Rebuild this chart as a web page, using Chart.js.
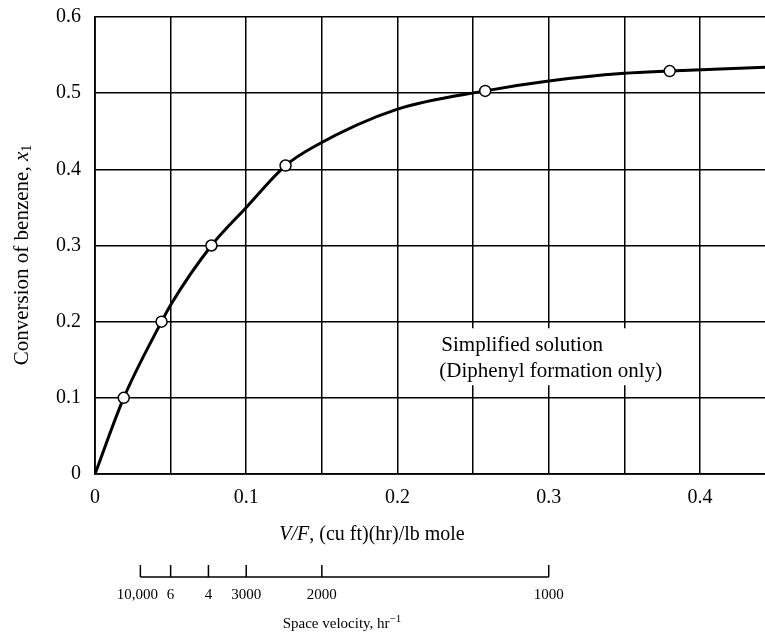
<!DOCTYPE html>
<html>
<head>
<meta charset="utf-8">
<script src="https://cdn.jsdelivr.net/npm/chart.js@4/dist/chart.umd.min.js"></script>
<style>
  html, body { margin: 0; padding: 0; background: #ffffff; overflow: hidden; }
  #wrap { width: 765px; height: 639px; position: relative; }
</style>
</head>
<body>
<div id="wrap"><canvas id="c"></canvas></div>
<script>
// ---- data ----
const xTicks = [0, 0.05, 0.1, 0.15, 0.2, 0.25, 0.3, 0.35, 0.4];
const xTickLabels = ['0', '', '0.1', '', '0.2', '', '0.3', '', '0.4'];
const yTicks = [0, 0.1, 0.2, 0.3, 0.4, 0.5, 0.6];
const yTickLabels = ['0', '0.1', '0.2', '0.3', '0.4', '0.5', '0.6'];

// smooth curve (V/F, conversion)
const curveX = [0, 0.019, 0.044, 0.05, 0.077, 0.1, 0.126, 0.145, 0.2, 0.258, 0.3, 0.35, 0.38, 0.443];
const curveY = [0, 0.1, 0.2, 0.222, 0.3, 0.35, 0.405, 0.43, 0.479, 0.503, 0.516, 0.526, 0.529, 0.534];

// open circles on the curve
const pointX = [0.019, 0.044, 0.077, 0.126, 0.258, 0.38];
const pointY = [0.1, 0.2, 0.3, 0.405, 0.503, 0.529];

// secondary scale: space velocity (hr^-1); V/F = svConstant / SV
const svValues = [10000, 6000, 4000, 3000, 2000, 1000];
const svLabels = ['10,000', '6', '4', '3000', '2000', '1000'];
const svConstant = 300;

const xMin = 0, xMax = 0.443, yMin = 0, yMax = 0.6;

const FONT = "'Liberation Serif', 'DejaVu Serif', serif";

function drawRuns(ctx, runs, cx, cy) {
  let total = 0;
  runs.forEach(r => { ctx.font = r.font; r.w = ctx.measureText(r.t).width; total += r.w; });
  let x = cx - total / 2;
  ctx.textBaseline = 'middle';
  ctx.textAlign = 'left';
  runs.forEach(r => {
    ctx.font = r.font;
    ctx.fillText(r.t, x, cy + (r.dy || 0));
    x += r.w;
  });
}

const extras = {
  id: 'extras',
  afterDatasetsDraw(chart) {
    const ctx = chart.ctx;
    const xs = chart.scales.x, ys = chart.scales.y;
    ctx.save();
    const l1 = 'Simplified solution';
    const l2 = '(Diphenyl formation only)';
    ctx.font = '21px ' + FONT;
    const tx = xs.getPixelForValue(0.229);
    const y1 = ys.getPixelForValue(0.169);
    const y2 = ys.getPixelForValue(0.135);
    const w = Math.max(ctx.measureText(l1).width, ctx.measureText(l2).width);
    ctx.fillStyle = '#ffffff';
    ctx.fillRect(tx - 6, y1 - 17, w + 14, (y2 - y1) + 31);
    ctx.fillStyle = '#000000';
    ctx.textBaseline = 'middle';
    ctx.textAlign = 'left';
    ctx.fillText(l1, tx, y1);
    ctx.fillText(l2, tx - 2, y2);
    ctx.restore();
  },
  afterDraw(chart) {
    const ctx = chart.ctx;
    const xs = chart.scales.x;
    ctx.save();
    ctx.fillStyle = '#000000';
    ctx.strokeStyle = '#000000';

    // y-axis title (rotated)
    ctx.save();
    ctx.translate(22, 255);
    ctx.rotate(-Math.PI / 2);
    drawRuns(ctx, [
      { t: 'Conversion of benzene, ', font: '21px ' + FONT },
      { t: 'x', font: 'italic 21px ' + FONT },
      { t: '1', font: '14px ' + FONT, dy: 5 }
    ], 0, 0);
    ctx.restore();

    // x-axis title
    drawRuns(ctx, [
      { t: 'V/F', font: 'italic 20px ' + FONT },
      { t: ', (cu ft)(hr)/lb mole', font: '20px ' + FONT }
    ], 372, 535);

    // space velocity scale
    const lineY = 577;
    const pxs = svValues.map(v => xs.getPixelForValue(svConstant / v));
    ctx.lineWidth = 1.5;
    ctx.beginPath();
    ctx.moveTo(Math.min(...pxs), lineY);
    ctx.lineTo(Math.max(...pxs), lineY);
    pxs.forEach(p => { ctx.moveTo(p, lineY); ctx.lineTo(p, lineY - 12); });
    ctx.stroke();
    ctx.font = '15px ' + FONT;
    ctx.textAlign = 'center';
    ctx.textBaseline = 'middle';
    svLabels.forEach((lab, i) => {
      let p = pxs[i];
      if (i === 0) p -= 3;
      ctx.fillText(lab, p, lineY + 18);
    });
    drawRuns(ctx, [
      { t: 'Space velocity, hr', font: '15px ' + FONT },
      { t: '\u2212', font: '11px ' + FONT, dy: -5 },
      { t: '1', font: '11px ' + FONT, dy: -5 }
    ], 342, 624);
    ctx.restore();
  }
};

new Chart(document.getElementById('c'), {
  type: 'scatter',
  data: {
    datasets: [
      {
        type: 'line',
        data: curveX.map((x, i) => ({ x: x, y: curveY[i] })),
        borderColor: '#000000',
        borderWidth: 3,
        pointRadius: 0,
        cubicInterpolationMode: 'monotone',
        fill: false,
        order: 2
      },
      {
        type: 'scatter',
        data: pointX.map((x, i) => ({ x: x, y: pointY[i] })),
        backgroundColor: '#ffffff',
        borderColor: '#000000',
        borderWidth: 1.5,
        pointRadius: 5.5,
        order: 1
      }
    ]
  },
  options: {
    responsive: true,
    maintainAspectRatio: false,
    animation: false,
    events: [],
    layout: { autoPadding: false, padding: { top: 17, right: 0, left: 0, bottom: 0 } },
    plugins: { legend: { display: false }, tooltip: { enabled: false } },
    scales: {
      x: {
        type: 'linear',
        min: xMin, max: xMax,
        afterBuildTicks: s => { s.ticks = xTicks.map(v => ({ value: v })); },
        afterFit: s => { s.height = 165; s.paddingLeft = 0; s.paddingRight = 0; },
        grid: { color: '#000000', lineWidth: 1.5, drawTicks: false },
        border: { color: '#000000', width: 1.8 },
        ticks: {
          padding: 12,
          color: '#000000',
          font: { family: FONT, size: 20 },
          maxRotation: 0,
          autoSkip: false,
          callback: (v, i) => xTickLabels[i]
        }
      },
      y: {
        type: 'linear',
        min: yMin, max: yMax,
        afterBuildTicks: s => { s.ticks = yTicks.map(v => ({ value: v })); },
        afterFit: s => { s.width = 95; s.paddingTop = 0; s.paddingBottom = 0; },
        grid: { color: '#000000', lineWidth: 1.5, drawTicks: false },
        border: { color: '#000000', width: 1.8 },
        ticks: {
          padding: 14,
          color: '#000000',
          font: { family: FONT, size: 20 },
          autoSkip: false,
          callback: (v, i) => yTickLabels[i]
        }
      }
    }
  },
  plugins: [extras]
});
</script>
</body>
</html>
